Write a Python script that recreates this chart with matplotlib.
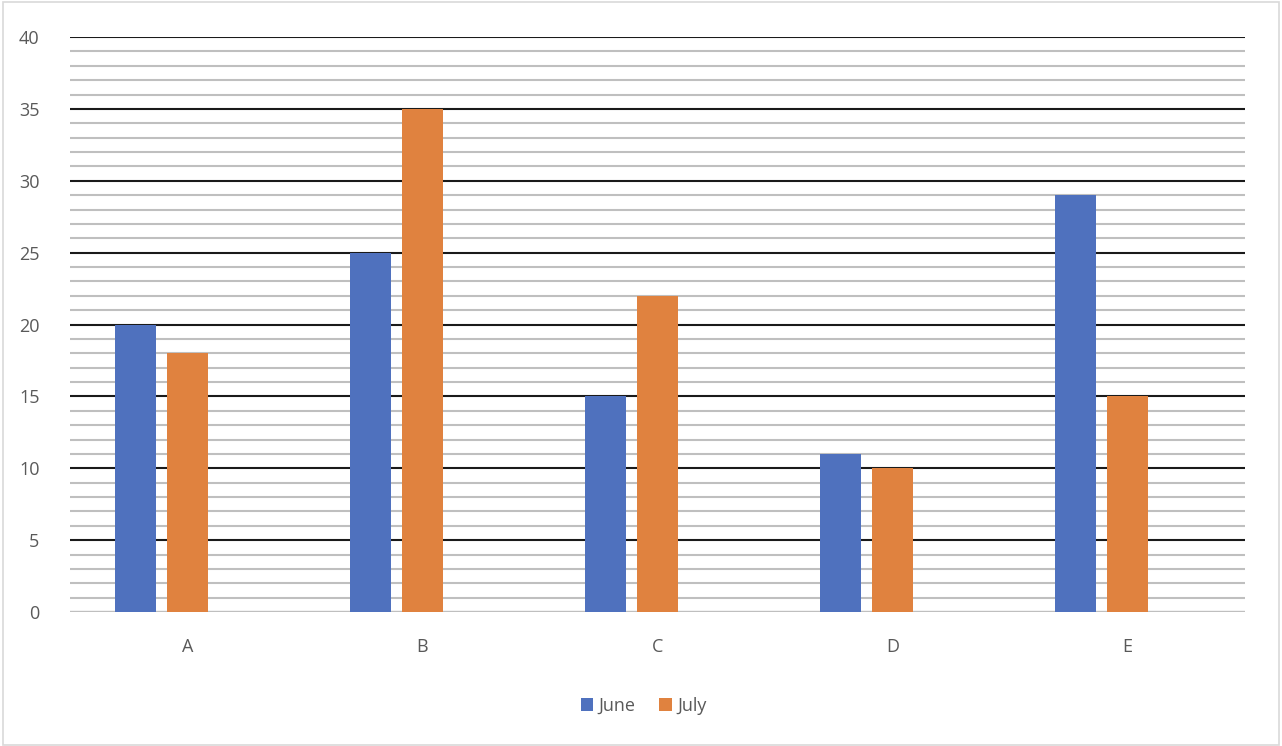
import matplotlib.pyplot as plt
import numpy as np
from matplotlib.patches import Rectangle

# Dados
categorias = ["A", "B", "C", "D", "E"]
junho = [20, 25, 15, 11, 29]
julho = [18, 35, 22, 10, 15]
y_ticks = [0, 5, 10, 15, 20, 25, 30, 35, 40]

azul = "#4F71BE"
laranja = "#E0823F"
cinza_txt = "#595959"

plt.rcParams['font.family'] = ['Open Sans', 'DejaVu Sans']

fig = plt.figure(figsize=(12.82, 7.46), dpi=100)
ax = fig.add_axes([70 / 1282, 1 - 612 / 746, 1175 / 1282, 575 / 746])

x = np.arange(len(categorias))
largura = 0.175
passo = 52 / 235

ax.bar(x - passo, junho, largura, color=azul, label="June", zorder=3)
ax.bar(x, julho, largura, color=laranja, label="July", zorder=3)

ax.set_xlim(-0.5, len(categorias) - 0.5)
ax.set_ylim(0, 40)

# grades: maiores pretas, menores cinzas
ax.set_yticks(y_ticks)
ax.set_yticks(np.arange(0, 41, 1), minor=True)
ax.grid(which='minor', axis='y', color='#BFBFBF', linewidth=1.5, zorder=1)
ax.grid(which='major', axis='y', color='#1a1a1a', linewidth=1.5, zorder=2)
ax.axhline(0, color='#BFBFBF', linewidth=1.5, zorder=2)

ax.set_xticks(x)
ax.set_xticklabels(categorias)
ax.tick_params(axis='both', which='both', length=0, labelsize=13, labelcolor=cinza_txt)
ax.tick_params(axis='y', pad=22)
ax.tick_params(axis='x', pad=19)

for s in ax.spines.values():
    s.set_visible(False)

leg = ax.legend(loc='center', bbox_to_anchor=(0.502, 1 - 706 / 746), bbox_transform=fig.transFigure,
                ncol=2, frameon=False, fontsize=13, handlelength=0.7, handleheight=0.7,
                handletextpad=0.3, columnspacing=1.3)
for t in leg.get_texts():
    t.set_color(cinza_txt)

# borda da figura
fig.patches.append(Rectangle((0.002, 0.002), 0.996, 0.995, transform=fig.transFigure,
                             fill=False, edgecolor='#D9D9D9', linewidth=1.2))

fig.savefig("out.png", dpi=100)
